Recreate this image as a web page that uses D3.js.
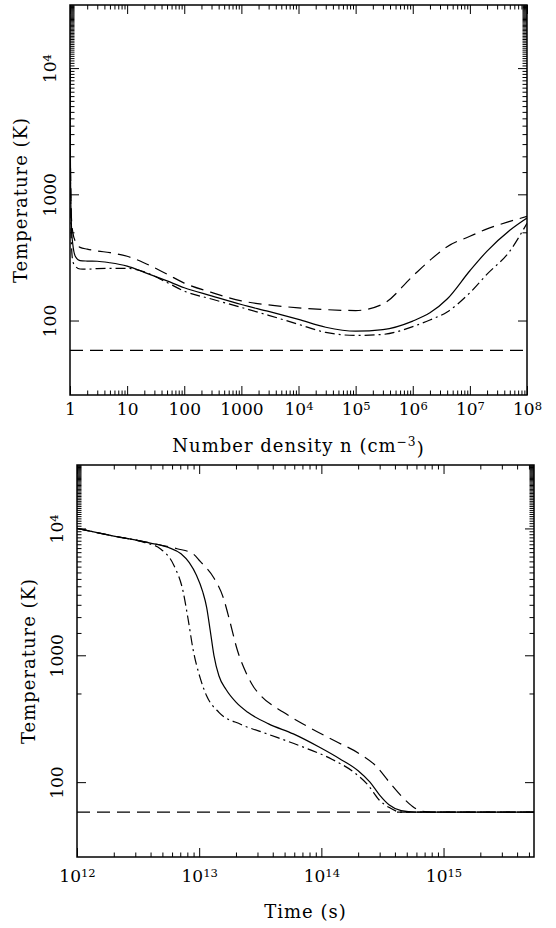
<!DOCTYPE html>
<html>
<head>
<meta charset="utf-8">
<script src="https://cdn.jsdelivr.net/npm/d3@7"></script>
<style>
body { margin: 0; background: #fff; }
text { font-family: "DejaVu Serif", serif; fill: #000; }
</style>
</head>
<body>
<svg id="chart" width="556" height="928"></svg>
<script>
// ---- top panel: temperature vs number density
const density = [1, 1.01, 1.03, 1.06, 1.12, 1.25, 1.5, 2, 3, 5, 10, 20, 50, 100, 300,
    1000, 3000, 1e4, 3e4, 1e5, 3e5, 1e6, 2e6, 4e6, 1e7, 2e7, 5e7, 1e8];
const tempSolidN = [10000, 2800, 1000, 560, 400, 320, 298, 296, 295, 287, 270, 241, 206, 182, 157,
    134, 118, 102, 88.5, 82.4, 84.7, 99, 115, 148, 248, 355, 519, 649];
const tempDashedN = [10000, 3000, 1200, 650, 500, 420, 380, 368, 356, 345, 323, 286, 233, 198, 167,
    143, 133, 126, 122, 120, 135, 225, 300, 385, 465, 532, 610, 668];
const tempDotDashN = [10000, 2500, 800, 400, 295, 268, 256, 255, 258, 259, 259, 243, 200, 171, 148,
    127, 110, 93.3, 80.5, 76.2, 77.6, 89.5, 101, 117, 166, 233, 355, 590];

// ---- bottom panel: temperature vs time
const timeSolid = [1e12, 2e12, 3.98e12, 5.6e12, 7.1e12, 8.3e12, 9.5e12, 1.07e13, 1.15e13, 1.23e13,
    1.32e13, 1.45e13, 1.66e13, 2e13, 2.5e13, 3.7e13, 5.9e13, 9.5e13, 1.41e14, 2e14, 2.5e14,
    3e14, 3.6e14, 4.5e14, 5.9e14, 5.5e15];
const tempSolidT = [10000, 8710, 7670, 7080, 6310, 5370, 4270, 3160, 2400, 1580,
    1000, 690, 537, 427, 355, 288, 240, 190, 153, 123, 100,
    79, 66, 59.6, 58, 58];
const timeDashed = [1e12, 2e12, 4e12, 6.6e12, 8.9e12, 1.02e13, 1.32e13, 1.58e13, 1.78e13, 2.04e13,
    2.45e13, 2.8e13, 3.2e13, 4.9e13, 7.2e13, 1.32e14, 2e14, 2.8e14, 3.6e14, 4.5e14,
    5.5e14, 6.6e14, 8.1e14, 5.5e15];
const tempDashedT = [10000, 8710, 7670, 6920, 6310, 5500, 4070, 2820, 1860, 1120,
    710, 560, 480, 355, 285, 209, 170, 134, 100, 78,
    65, 59, 58, 58];
const timeDotDash = [1e12, 2e12, 3.55e12, 4.8e12, 6.2e12, 7.4e12, 8.1e12, 8.9e12, 1.02e13, 1.15e13,
    1.45e13, 2.2e13, 3.7e13, 6.8e13, 1.23e14, 1.86e14, 2.45e14, 2.95e14, 3.6e14, 4.5e14, 5.5e15];
const tempDotDashT = [10000, 8710, 7760, 6920, 5130, 3160, 1950, 1120, 660, 480,
    355, 285, 238, 192, 151, 119, 93, 73, 63, 58, 58];

const floorTemp = 58;

// ---- axes
const tempDomain = [25.7, 31623];
const tempTicks = [100, 1000, 10000];
const tempLabels = ["100", "1000", "10^4"];
const densityTicks = [1, 10, 100, 1000, 1e4, 1e5, 1e6, 1e7, 1e8];
const densityLabels = ["1", "10", "100", "1000", "10^4", "10^5", "10^6", "10^7", "10^8"];
const timeTicks = [1e12, 1e13, 1e14, 1e15];
const timeLabels = ["10^12", "10^13", "10^14", "10^15"];

const svg = d3.select("#chart");

const dashStyles = { solid: null, dashed: "13,7", dotdash: "10,4,2,4" };

function setLabel(sel, str) {
    sel.text(null);
    const parts = str.split("^");
    sel.append("tspan").text(parts[0]);
    if (parts.length > 1) {
        sel.append("tspan").attr("dy", "-0.45em").style("font-size", "0.68em").text(parts[1]);
    }
}

function drawPanel(cfg) {
    const x = d3.scaleLog().domain(cfg.xDomain).range([cfg.left, cfg.right]);
    const y = d3.scaleLog().domain(tempDomain).range([cfg.bottom, cfg.top]);
    const g = svg.append("g");

    const isMajor = d => Math.abs(Math.log10(d) - Math.round(Math.log10(d))) < 1e-6;
    const xMinor = x.ticks(60).filter(d => !isMajor(d));
    const yMinor = y.ticks(60).filter(d => !isMajor(d));

    // clip
    const clipId = "clip" + cfg.id;
    g.append("clipPath").attr("id", clipId).append("rect")
        .attr("x", cfg.left).attr("y", cfg.top)
        .attr("width", cfg.right - cfg.left).attr("height", cfg.bottom - cfg.top);

    const axes = [
        [d3.axisBottom(x).tickValues(cfg.xTicks).tickSize(-9), `translate(0,${cfg.bottom})`, "xlab"],
        [d3.axisBottom(x).tickValues(xMinor).tickSize(-4.5), `translate(0,${cfg.bottom})`],
        [d3.axisTop(x).tickValues(cfg.xTicks).tickSize(-9), `translate(0,${cfg.top})`],
        [d3.axisTop(x).tickValues(xMinor).tickSize(-4.5), `translate(0,${cfg.top})`],
        [d3.axisLeft(y).tickValues(tempTicks).tickSize(-9), `translate(${cfg.left},0)`, "ylab"],
        [d3.axisLeft(y).tickValues(yMinor).tickSize(-4.5), `translate(${cfg.left},0)`],
        [d3.axisRight(y).tickValues(tempTicks).tickSize(-9), `translate(${cfg.right},0)`],
        [d3.axisRight(y).tickValues(yMinor).tickSize(-4.5), `translate(${cfg.right},0)`]
    ];
    axes.forEach(([ax, tr, lab]) => {
        ax.tickFormat("");
        const a = g.append("g").attr("transform", tr).call(ax);
        a.select(".domain").remove();
        a.selectAll(".tick line").attr("stroke", "#000").attr("stroke-width", 1);
        if (lab === "xlab") {
            a.selectAll(".tick text").each(function (d, i) {
                const t = d3.select(this).attr("y", 0).attr("dy", 0)
                    .attr("transform", `translate(0,${cfg.xLabelOff})`)
                    .attr("text-anchor", "middle").style("font-size", "17px").attr("fill", "#000");
                setLabel(t, cfg.xLabels[i]);
            });
        } else if (lab === "ylab") {
            a.selectAll(".tick text").each(function (d, i) {
                const t = d3.select(this).attr("x", 0).attr("dy", 0)
                    .attr("transform", "translate(-14,0) rotate(-90)")
                    .attr("text-anchor", "middle").style("font-size", "17px").attr("fill", "#000");
                setLabel(t, tempLabels[i]);
            });
        } else {
            a.selectAll(".tick text").remove();
        }
    });

    // curves
    const line = d3.line().x(d => x(d[0])).y(d => y(d[1])).curve(d3.curveMonotoneX);
    const cg = g.append("g").attr("clip-path", `url(#${clipId})`);
    cg.append("path")
        .attr("d", line([[cfg.xDomain[0], floorTemp], [cfg.xDomain[1], floorTemp]]))
        .attr("fill", "none").attr("stroke", "#000").attr("stroke-width", 1.1)
        .attr("stroke-dasharray", dashStyles.dashed);
    cfg.series.forEach(s => {
        cg.append("path")
            .attr("d", line(d3.zip(s.xs, s.ys)))
            .attr("fill", "none").attr("stroke", "#000").attr("stroke-width", 1.2)
            .attr("stroke-dasharray", dashStyles[s.style]);
    });

    // frame
    g.append("rect")
        .attr("x", cfg.left).attr("y", cfg.top)
        .attr("width", cfg.right - cfg.left).attr("height", cfg.bottom - cfg.top)
        .attr("fill", "none").attr("stroke", "#000").attr("stroke-width", 1.5);

    // titles
    const xt = g.append("text")
        .attr("x", (cfg.left + cfg.right) / 2).attr("y", cfg.xTitleY)
        .attr("text-anchor", "middle").style("font-size", "18px")
        .style("letter-spacing", "1px");
    cfg.xTitle.forEach(p => {
        const ts = xt.append("tspan").text(p.t);
        if (p.sup) ts.attr("dy", "-0.45em").style("font-size", "0.68em");
        if (p.down) ts.attr("dy", "0.45em");
    });
    g.append("text")
        .attr("transform", `translate(${cfg.yTitleX},${(cfg.top + cfg.bottom) / 2}) rotate(-90)`)
        .attr("text-anchor", "middle").style("font-size", "18px")
        .style("letter-spacing", "1px")
        .text("Temperature (K)");
}

drawPanel({
    id: "top", left: 70, right: 527, top: 5, bottom: 395,
    xDomain: [1, 1e8], xTicks: densityTicks, xLabels: densityLabels, xLabelOff: 20,
    xTitle: [{ t: "Number density n (cm" }, { t: "\u22123", sup: true }, { t: ")", down: true }],
    xTitleY: 452, yTitleX: 27,
    series: [
        { xs: density, ys: tempSolidN, style: "solid" },
        { xs: density, ys: tempDashedN, style: "dashed" },
        { xs: density, ys: tempDotDashN, style: "dotdash" }
    ]
});

drawPanel({
    id: "bot", left: 77, right: 534, top: 465, bottom: 857,
    xDomain: [1e12, 5.5e15], xTicks: timeTicks, xLabels: timeLabels, xLabelOff: 25,
    xTitle: [{ t: "Time (s)" }],
    xTitleY: 918, yTitleX: 35,
    series: [
        { xs: timeSolid, ys: tempSolidT, style: "solid" },
        { xs: timeDashed, ys: tempDashedT, style: "dashed" },
        { xs: timeDotDash, ys: tempDotDashT, style: "dotdash" }
    ]
});
</script>
</body>
</html>
